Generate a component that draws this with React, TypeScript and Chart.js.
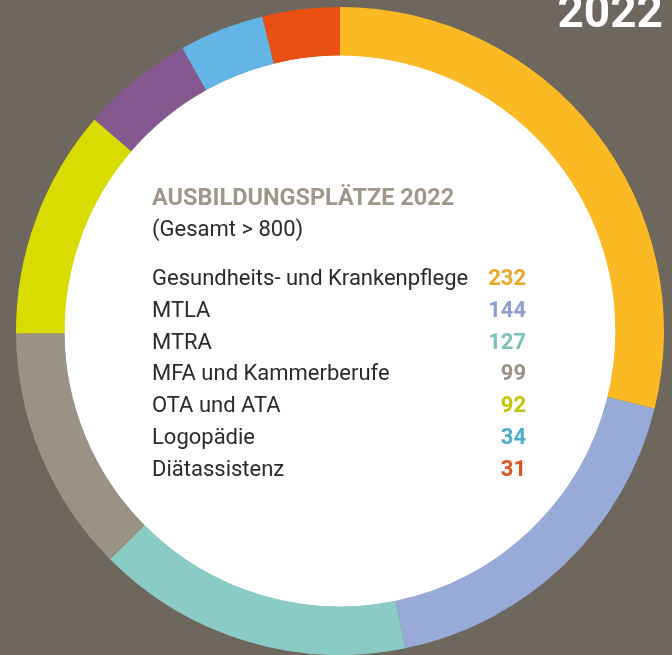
import React, { useEffect, useRef } from "react";
import { Chart, registerables } from "chart.js";

Chart.register(...registerables);

// ---- data ----
const categories = [
  "Gesundheits- und Krankenpflege",
  "MTLA",
  "MTRA",
  "MFA und Kammerberufe",
  "OTA und ATA",
  "Sonstige",
  "Logopädie",
  "Diätassistenz",
];
const values = [232, 144, 127, 99, 92, 45, 34, 31];
const segmentColors = ["#FBBA23", "#98ABD8", "#8BCBC5", "#9B9286", "#D8DC00", "#85598F", "#63B5E5", "#E85113"];
const numberColors = ["#E8A928", "#8C9FD1", "#7BC0BA", "#9B9286", "#C3C400", "#85598F", "#4AAFCB", "#E6511B"];
const legendIndices = [0, 1, 2, 3, 4, 6, 7];
const chartTitle = "AUSBILDUNGSPLÄTZE 2022";
const chartSubtitle = "(Gesamt > 800)";
const yearLabel = "2022";

const BG = "#6E675E";
const FONT = "Roboto, 'Open Sans', sans-serif";

const centerPlugin = {
  id: "centerContent",
  beforeDatasetsDraw(chart: any) {
    const meta = chart.getDatasetMeta(0);
    const arc: any = meta.data[0];
    if (!arc) return;
    const { x, y, innerRadius } = arc.getProps(["x", "y", "innerRadius"], true);
    const ctx = chart.ctx;
    ctx.save();
    ctx.fillStyle = "#FFFFFF";
    ctx.beginPath();
    ctx.arc(x, y, innerRadius + 0.5, 0, Math.PI * 2);
    ctx.fill();
    ctx.restore();
  },
  afterDraw(chart: any) {
    const meta = chart.getDatasetMeta(0);
    const arc: any = meta.data[0];
    if (!arc) return;
    const { x: cx, y: cy } = arc.getProps(["x", "y"], true);
    const ctx = chart.ctx;
    ctx.save();
    ctx.textBaseline = "alphabetic";

    // heading
    ctx.textAlign = "left";
    ctx.fillStyle = "#A0978B";
    ctx.font = `bold 23.5px ${FONT}`;
    ctx.fillText(chartTitle, cx - 188, cy - 126);

    ctx.fillStyle = "#2B2B2B";
    ctx.font = `22px ${FONT}`;
    ctx.fillText(chartSubtitle, cx - 188, cy - 95);

    legendIndices.forEach((idx, row) => {
      const by = cy - 46 + row * 31.8;
      ctx.textAlign = "left";
      ctx.fillStyle = "#2B2B2B";
      ctx.font = `22px ${FONT}`;
      ctx.fillText(categories[idx], cx - 188, by);
      ctx.textAlign = "right";
      ctx.fillStyle = numberColors[idx];
      ctx.font = `bold 22px ${FONT}`;
      ctx.fillText(String(values[idx]), cx + 186, by);
    });

    // year label, top right
    ctx.textAlign = "right";
    ctx.fillStyle = "#FFFFFF";
    ctx.font = `bold 46px ${FONT}`;
    ctx.fillText(yearLabel, chart.width - 9, 27);
    ctx.restore();
  },
};

export default function App() {
  const canvasRef = useRef<HTMLCanvasElement | null>(null);

  useEffect(() => {
    document.body.style.margin = "0";
    const canvas = canvasRef.current;
    if (!canvas) return;
    const chart = new Chart(canvas, {
      type: "doughnut",
      data: {
        labels: categories,
        datasets: [
          {
            data: values,
            backgroundColor: segmentColors,
            borderWidth: 0,
            hoverOffset: 0,
          },
        ],
      },
      options: {
        animation: false,
        responsive: false,
        maintainAspectRatio: false,
        cutout: "85%",
        rotation: 0,
        layout: { padding: { top: 7, bottom: 0, left: 16, right: 8 } },
        plugins: {
          legend: { display: false },
          tooltip: { enabled: false },
          title: { display: false },
        },
      },
      plugins: [centerPlugin],
    });
    return () => chart.destroy();
  }, []);

  return (
    <div style={{ width: 672, height: 655, background: BG, overflow: "hidden" }}>
      <canvas ref={canvasRef} width={672} height={655} style={{ display: "block" }} />
    </div>
  );
}
